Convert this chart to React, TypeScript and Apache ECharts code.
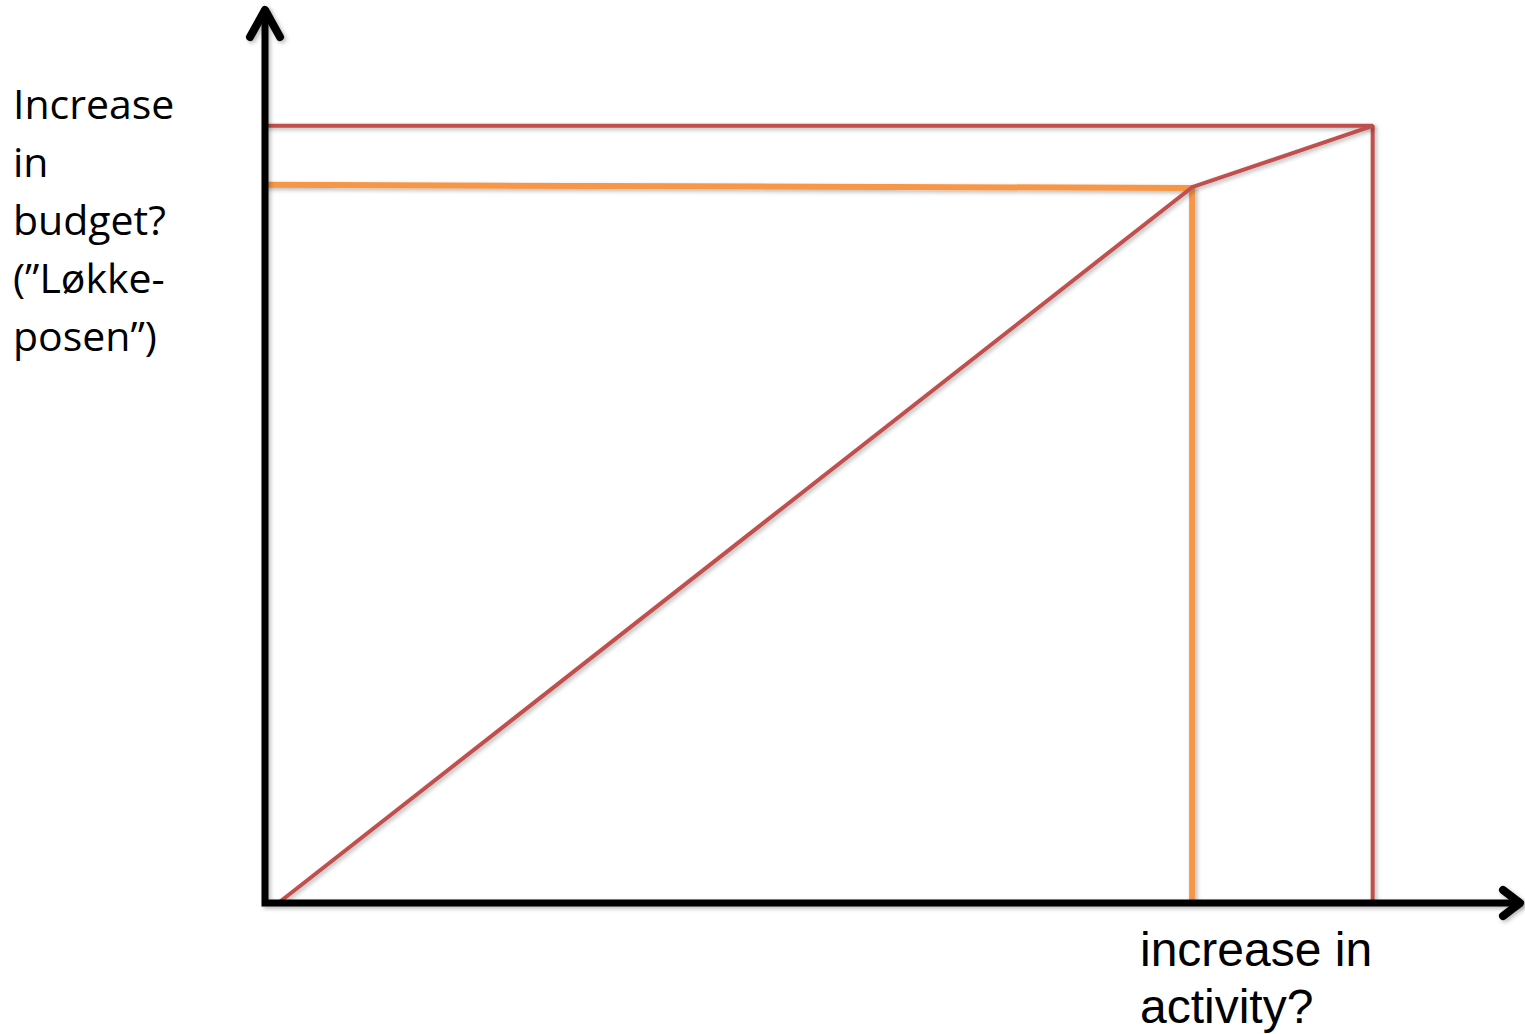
import React, { useEffect, useRef } from "react";
import * as echarts from "echarts";

// Data (value units): activity on x, budget on y
const diagonalLine: [number, number][] = [[1.2, 0], [83.7, 92.1], [100, 100]];
const redFrame: [number, number][] = [[0, 100], [100, 100], [100, 0]];
const orangeFrame: [number, number][] = [[0, 92.4], [83.7, 92.0], [83.7, 0]];
const xRange = [0, 113.3];
const yRange = [0, 114.9];
const yLabelLines = ["Increase", "in", "budget?", "(\u201DL\u00F8kke-", "posen\u201D)"];
const xLabelLines = ["increase in", "activity?"];

const RED = "#C0504D";
const ORANGE = "#F79646";

const W = 1525;
const H = 1034;
const GRID = { left: 265, top: 10, right: 5, bottom: 131 };

export default function App() {
  const ref = useRef<HTMLDivElement>(null);
  useEffect(() => {
    if (!ref.current) return;
    const chart = echarts.init(ref.current, undefined, { renderer: "svg" });
    const shadow = {
      shadowColor: "rgba(0,0,0,0.28)",
      shadowBlur: 4,
      shadowOffsetX: 2,
      shadowOffsetY: 2,
    };
    const axisCommon = {
      type: "value" as const,
      axisTick: { show: false },
      axisLabel: { show: false },
      splitLine: { show: false },
      axisLine: { show: false },
    };
    const x0 = GRID.left;
    const yb = H - GRID.bottom;
    const xr = W - GRID.right;
    const yt = GRID.top;
    const arrowStyle = {
      stroke: "#000",
      lineWidth: 8,
      fill: null,
      lineCap: "round",
      lineJoin: "round",
      ...shadow,
    };
    const axisStyle = {
      stroke: "#000",
      lineWidth: 7,
      lineCap: "square",
      ...shadow,
    };
    chart.setOption({
      animation: false,
      backgroundColor: "#fff",
      grid: GRID,
      xAxis: { ...axisCommon, min: xRange[0], max: xRange[1] },
      yAxis: { ...axisCommon, min: yRange[0], max: yRange[1] },
      series: [
        {
          type: "line",
          data: orangeFrame,
          symbol: "none",
          lineStyle: { color: ORANGE, width: 6, ...shadow },
          z: 2,
        },
        {
          type: "line",
          data: redFrame,
          symbol: "none",
          lineStyle: { color: RED, width: 4, ...shadow },
          z: 3,
        },
        {
          type: "line",
          data: diagonalLine,
          symbol: "none",
          lineStyle: { color: RED, width: 4, ...shadow },
          z: 4,
        },
      ],
      graphic: [
        {
          type: "polyline",
          shape: { points: [[x0, yt + 2], [x0, yb], [xr - 2, yb]] },
          style: { ...axisStyle, fill: null, lineJoin: "miter" },
          z: 9,
        },
        {
          type: "polyline",
          shape: { points: [[x0 - 15, yt + 27], [x0, yt], [x0 + 15, yt + 27]] },
          style: arrowStyle,
          z: 10,
        },
        {
          type: "polyline",
          shape: { points: [[xr - 17, yb - 13], [xr, yb], [xr - 17, yb + 13]] },
          style: arrowStyle,
          z: 10,
        },
        {
          type: "text",
          left: 13,
          top: 74,
          style: {
            text: yLabelLines.join("\n"),
            font: '41px "Open Sans"',
            lineHeight: 58,
            fill: "#000",
          },
        },
        {
          type: "text",
          left: 1140,
          top: 921,
          style: {
            text: xLabelLines.join("\n"),
            font: '48px "Liberation Sans"',
            lineHeight: 57,
            fill: "#000",
          },
        },
      ],
    });
    return () => chart.dispose();
  }, []);
  return (
    <div
      ref={ref}
      style={{ position: "fixed", left: 0, top: 0, width: W + "px", height: H + "px" }}
    />
  );
}
